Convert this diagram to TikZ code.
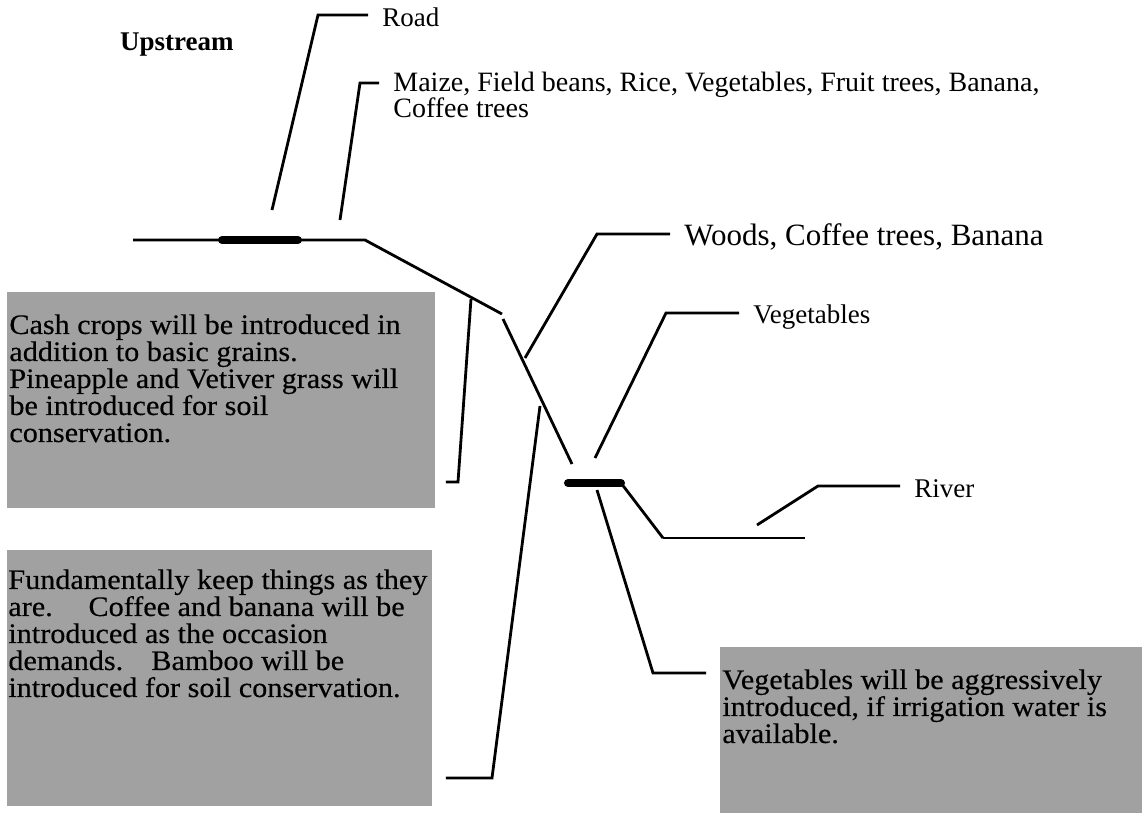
\documentclass[tikz,border=0pt]{standalone}
\usepackage{fontspec}
\setmainfont{Liberation Serif}
\newfontfamily\notefont[FakeStretch=1.07,FakeBold=0.4]{Liberation Serif}
\usetikzlibrary{positioning,calc}

\begin{document}
\begin{tikzpicture}[x=0.5pt,y=-0.5pt,
  leader/.style={line width=1.4pt, line join=miter},
  crossing/.style={line width=4pt, line cap=round},
  tag/.style={font=\fontsize{13.5}{13}\selectfont, inner xsep=7pt, inner ysep=0pt, anchor=west, align=left},
  stipple/.style={fill=black!37, draw=none, inner sep=0pt, anchor=north west},
  note/.style={font=\notefont\fontsize{14.1}{13.5}\selectfont, align=left, inner sep=0pt, anchor=north west}]
\useasboundingbox (0,0) rectangle (1142,813);

% title
\node[font=\bfseries\fontsize{13.5}{13.5}\selectfont, anchor=west] (upstream) at (113,45) {Upstream};

% shaded boxes
\node[stipple, minimum width=214pt, minimum height=108pt] (cashbox) at (7,292) {};
\node[stipple, minimum width=212.5pt, minimum height=128pt] (keepbox) at (7,550) {};
\node[stipple, minimum width=211pt, minimum height=83pt] (vegbox) at (720,647) {};
\node[note] (cash) at (9,314) {Cash crops will be introduced in\\addition to basic grains.\\Pineapple and Vetiver grass will\\be introduced for soil\\conservation.};
\node[note] (keep) at (8,569) {Fundamentally keep things as they\\are.\quad\ Coffee and banana will be\\introduced as the occasion\\demands.\quad Bamboo will be\\introduced for soil conservation.};
\node[note] (vegnote) at (722,669) {Vegetables will be aggressively\\introduced, if irrigation water is\\available.};

% labels
\node[tag] (road) at (368,17) {Road};
\node[tag, font=\fontsize{14}{13}\selectfont, anchor=north west] (crops) at (379,72) {Maize, Field beans, Rice, Vegetables, Fruit trees, Banana,\\Coffee trees};
\node[tag, font=\fontsize{15.5}{15}\selectfont] (woods) at (670,237) {Woods, Coffee trees, Banana};
\node[tag] (veg) at (739,317) {Vegetables};
\node[tag] (river) at (900,489) {River};

% cross-section profile
\coordinate (bankL) at (133,240);
\coordinate (bankR) at (365,240);
\coordinate (slopeA) at (502,314);
\coordinate (slopeB) at (503,319);
\coordinate (slopeC) at (572,464);
\coordinate (roadL) at (222,240);
\coordinate (roadR) at (298,240);
\coordinate (riverL) at (568,483);
\coordinate (riverR) at (621,483);
\coordinate (flatL) at (663,538);
\coordinate (flatR) at (805,538);
\draw[leader] (bankL) -- (bankR) -- (slopeA);
\draw[leader] (slopeB) -- (slopeC);
\draw[crossing] (roadL) -- (roadR);
\draw[crossing] (riverL) -- (riverR);
\draw[leader] (riverR) -- (flatL);
\draw[leader, line width=1.1pt] (flatL) -- (flatR);

% leader lines
\coordinate (roadfoot) at (272,210);
\coordinate (roadknee) at (318,15);
\draw[leader] (roadfoot) -- (roadknee) -- (roadknee -| road.west);
\coordinate (cropsfoot) at (340,220);
\coordinate (cropsknee) at (360,83);
\draw[leader] (cropsfoot) -- (cropsknee) -- (cropsknee -| crops.west);
\coordinate (woodsfoot) at (525,358);
\coordinate (woodsknee) at (597,234);
\draw[leader] (woodsfoot) -- (woodsknee) -- (woodsknee -| woods.west);
\coordinate (vegfoot) at (595,458);
\coordinate (vegknee) at (666,313);
\draw[leader] (vegfoot) -- (vegknee) -- (vegknee -| veg.west);
\coordinate (riverfoot) at (757,525);
\coordinate (riverknee) at (818,486);
\draw[leader] (riverfoot) -- (riverknee) -- (riverknee -| river.west);
\coordinate (cashtop) at (471,299);
\coordinate (cashknee) at (458,482);
\draw[leader] (cashtop) -- (cashknee) -- (cashknee -| {$(cashbox.east)+(10,0)$});
\coordinate (keeptop) at (540,406);
\coordinate (keepknee) at (492,778);
\draw[leader] (keeptop) -- (keepknee) -- (keepknee -| {$(keepbox.east)+(13,0)$});
\coordinate (vegtop) at (597,490);
\coordinate (vegnoteknee) at (653,673);
\draw[leader] (vegtop) -- (vegnoteknee) -- (vegnoteknee -| {$(vegbox.west)+(-14,0)$});
\end{tikzpicture}
\end{document}
